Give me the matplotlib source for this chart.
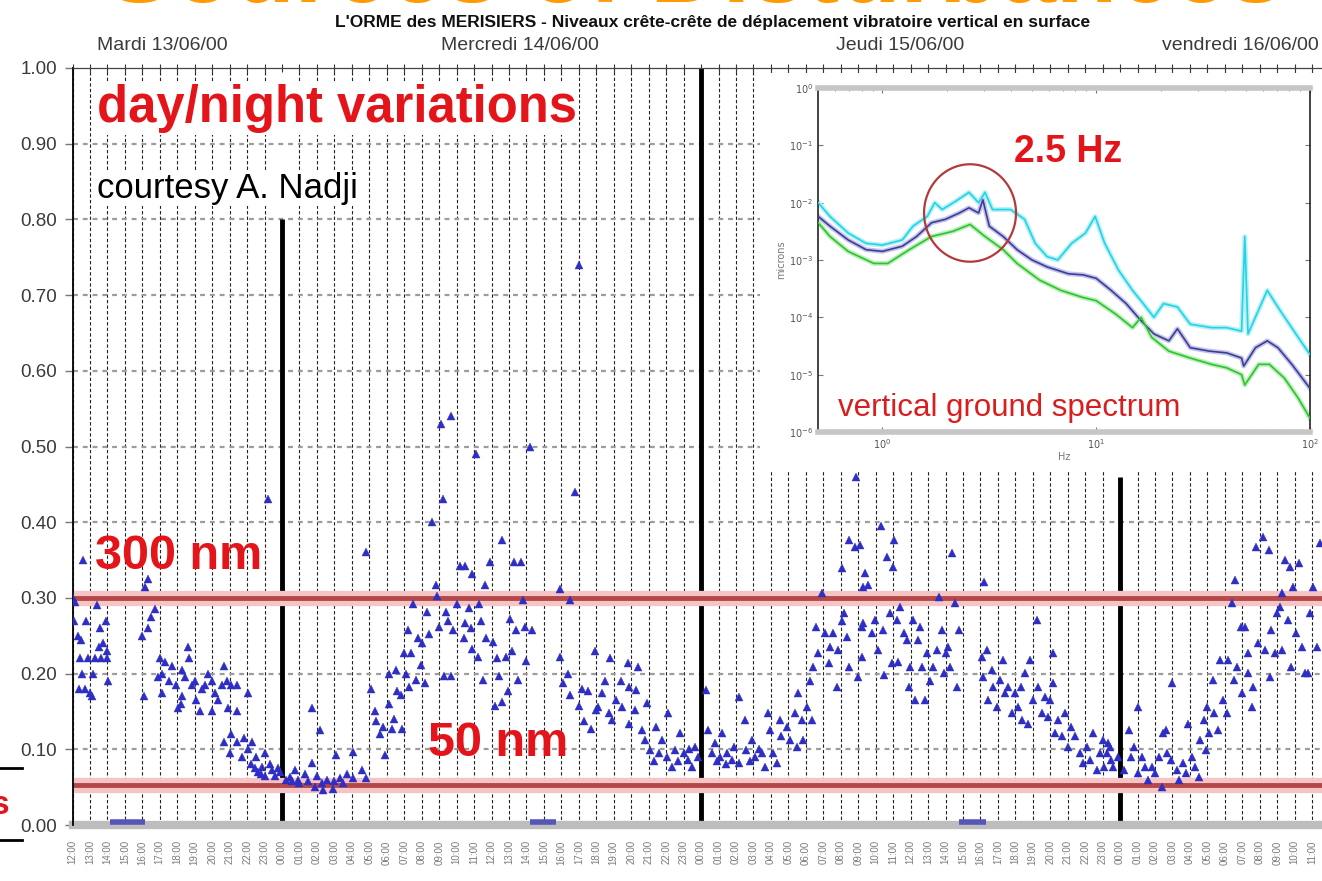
import matplotlib
matplotlib.use('Agg')
import matplotlib.pyplot as plt
import numpy as np
from matplotlib.patches import Rectangle
from matplotlib.lines import Line2D
from matplotlib.ticker import NullLocator, FixedLocator

# ---------------- data ----------------
# hours since Tue 13/06/00 12:00 ; peak-peak vertical displacement (microns)
t_hours = [
    0.05, 0.15, 0.10, 0.30, 0.45, 0.50, 0.60, 0.55, 0.70, 0.80, 0.90, 1.00, 1.10, 1.20, 1.40, 1.50,
    1.55, 1.65, 1.75, 1.90, 1.95, 2.05, 2.00, 0.35, 1.30,
    4.00, 4.10, 4.15, 4.30, 4.30, 4.50, 4.70, 4.90, 5.00, 5.10, 5.30, 5.15, 5.50, 5.90, 6.05, 6.30,
    6.30, 6.60, 6.70, 6.45, 6.85, 7.10, 7.30, 7.40, 7.60, 7.75, 8.00, 8.15, 8.00, 8.35, 8.55, 8.70,
    8.85, 8.90, 9.10, 9.40, 9.45, 8.70, 9.00, 9.10, 9.45, 9.85, 10.05, 9.70, 10.05, 10.30, 10.45,
    10.60, 10.85, 11.00, 11.00, 11.20, 11.40, 11.60, 11.90, 10.20, 10.80, 11.30, 11.75, 10.50, 7.00,
    5.70, 6.20,
    12.20, 12.45, 12.75, 12.90, 13.30, 13.70, 13.70, 13.90, 14.20, 14.30, 14.60, 14.35, 14.90, 15.10,
    15.30, 15.70, 16.05, 16.05, 16.60, 16.80, 13.00, 13.50, 14.00, 15.00, 15.50, 12.60, 16.80,
    17.10, 17.40, 17.60, 17.80, 17.90, 18.10, 18.10, 18.30, 18.50, 18.60, 18.80, 18.90, 19.00, 19.20,
    19.30, 19.40, 19.50, 19.70, 19.80, 19.95, 20.20, 20.30, 20.40, 20.60, 20.80, 20.85, 21.00, 21.10,
    21.20, 21.30, 21.40, 21.70, 21.70, 21.80, 22.00, 22.20, 22.40, 22.50, 22.50, 22.70, 22.90, 22.90,
    23.10, 23.20, 23.30, 23.50, 23.60, 23.70, 23.90, 24.10, 24.20, 24.40, 24.60, 24.60, 24.80, 24.95,
    25.05, 25.30, 25.40, 25.50, 25.70, 25.80, 25.90, 26.00, 26.20, 26.30, 17.30, 18.40, 20.00, 21.50,
    22.80, 23.40, 24.30, 25.20, 19.10,
    27.90, 27.90, 28.10, 28.40, 28.50, 28.50, 28.80, 29.00, 29.00, 29.30, 29.50, 29.70, 30.00, 29.90,
    30.30, 30.10, 30.80, 30.70, 30.90, 31.10, 31.40, 31.50, 31.80, 31.85, 31.90, 32.20, 32.40, 32.30,
    32.60, 32.90, 32.80, 33.10, 33.40, 33.60, 33.75, 34.05, 34.10, 34.35, 34.50, 34.80, 35.00, 35.25,
    35.50, 35.65, 35.80, 29.20, 30.50, 33.30, 34.70, 35.30,
    36.30, 36.40, 36.60, 36.80, 37.10, 37.20, 37.50, 37.80, 37.90, 38.20, 38.20, 38.50, 38.60, 38.90,
    39.10, 39.50, 39.65, 39.85, 39.95, 40.10, 40.35, 40.50, 40.60, 40.90, 41.10, 41.40, 41.55, 41.50,
    41.80, 41.85, 42.05, 42.25, 42.35, 42.40, 42.60, 42.70, 42.90, 43.10, 43.30, 43.40, 43.55, 43.80,
    43.85, 44.10, 44.10, 44.20, 44.35, 44.50, 44.50, 44.80, 44.90, 45.00, 45.20, 45.30, 36.90, 37.40,
    38.80, 39.30,
    45.10, 45.40, 45.55, 45.30, 45.20, 45.80, 45.95, 46.15, 46.30, 46.40, 46.50, 46.65, 46.80, 46.95,
    47.00, 47.05, 47.20, 47.30, 47.40, 47.60, 47.80, 47.90, 47.95, 48.15, 48.25, 48.45, 48.55, 48.65,
    48.80, 48.95, 49.10, 49.30, 49.50, 49.60, 49.80, 49.90, 50.00, 50.15, 50.25, 50.35, 50.55, 50.65,
    50.75, 52.10, 52.20, 52.15, 52.35, 52.45, 52.65, 52.70, 52.95, 53.10, 53.30, 53.40, 53.60, 53.80,
    54.00, 54.15, 54.35, 54.40, 54.55, 54.75, 54.85, 55.00, 55.25, 55.30, 55.50, 55.70, 55.85, 56.00,
    56.15, 56.15, 56.30, 56.45, 56.65, 56.85, 57.00, 57.20, 57.40, 57.70, 57.90, 58.10, 58.30, 58.45,
    58.70, 58.85,
    59.00, 59.25, 59.40, 59.60, 59.90, 59.10, 59.30, 59.50, 60.20, 60.50, 60.60, 60.80, 61.00, 61.00,
    61.25, 61.40, 61.60, 61.80, 62.00, 62.20, 62.40, 62.45, 62.65, 62.70, 62.90, 63.00, 63.25, 63.40,
    63.60, 63.80, 63.90, 64.10, 64.30, 64.50, 64.60, 64.80, 64.90, 65.00, 65.10, 65.30, 65.40, 65.60,
    65.70, 65.90, 66.10, 66.20, 66.40, 66.60, 66.50, 66.70, 66.90, 67.00, 67.15, 67.30, 67.35, 67.55,
    67.60, 67.80, 67.90, 68.20, 68.30, 68.50, 68.60, 68.65, 68.85, 69.00, 69.15, 69.25, 69.30, 69.45,
    69.60, 69.75, 69.80, 69.90, 70.10, 70.25, 70.40, 70.60, 70.75, 70.90, 71.05, 71.30, 71.45,
]
level_um = [
    0.300, 0.295, 0.270, 0.250, 0.220, 0.245, 0.350, 0.200, 0.180, 0.270, 0.220, 0.175, 0.170, 0.200, 0.290, 0.235,
    0.260, 0.220, 0.240, 0.270, 0.230, 0.190, 0.220, 0.180, 0.220,
    0.250, 0.170, 0.315, 0.325, 0.260, 0.275, 0.285, 0.195, 0.220, 0.200, 0.215, 0.175, 0.190, 0.185, 0.155, 0.170,
    0.205, 0.235, 0.220, 0.195, 0.185, 0.165, 0.150, 0.180, 0.185, 0.200, 0.190, 0.175, 0.150, 0.165, 0.185, 0.210,
    0.190, 0.155, 0.185, 0.185, 0.150, 0.110, 0.095, 0.120, 0.110, 0.115, 0.175, 0.090, 0.100, 0.110, 0.075,
    0.070, 0.077, 0.095, 0.065, 0.430, 0.072, 0.065, 0.070, 0.080, 0.068, 0.080, 0.075, 0.090, 0.190,
    0.210, 0.160,
    0.060, 0.063, 0.072, 0.060, 0.068, 0.155, 0.082, 0.050, 0.125, 0.055, 0.060, 0.046, 0.047, 0.092,
    0.062, 0.067, 0.097, 0.062, 0.072, 0.062, 0.055, 0.058, 0.065, 0.058, 0.055, 0.058, 0.360,
    0.180, 0.137, 0.120, 0.130, 0.092, 0.200, 0.160, 0.127, 0.205, 0.177, 0.172, 0.127, 0.227, 0.257,
    0.182, 0.227, 0.292, 0.192, 0.247, 0.212, 0.187, 0.282, 0.252, 0.400, 0.317, 0.302, 0.262, 0.530,
    0.430, 0.197, 0.282, 0.540, 0.197, 0.257, 0.292, 0.342, 0.247, 0.342, 0.267, 0.287, 0.232, 0.332,
    0.490, 0.222, 0.292, 0.192, 0.317, 0.247, 0.347, 0.242, 0.157, 0.197, 0.162, 0.377, 0.222, 0.177,
    0.272, 0.347, 0.257, 0.192, 0.347, 0.297, 0.262, 0.217, 0.500, 0.257, 0.150, 0.140, 0.240, 0.270,
    0.260, 0.270, 0.220, 0.230, 0.200,
    0.312, 0.222, 0.187, 0.200, 0.297, 0.172, 0.440, 0.740, 0.157, 0.137, 0.177, 0.127, 0.152, 0.230,
    0.174, 0.156, 0.220, 0.148, 0.139, 0.165, 0.190, 0.156, 0.214, 0.182, 0.134, 0.152, 0.209, 0.178,
    0.125, 0.161, 0.112, 0.099, 0.130, 0.095, 0.112, 0.090, 0.148, 0.077, 0.099, 0.121, 0.095, 0.086,
    0.077, 0.103, 0.090, 0.180, 0.190, 0.085, 0.085, 0.100,
    0.178, 0.125, 0.095, 0.108, 0.090, 0.121, 0.095, 0.086, 0.103, 0.169, 0.082, 0.139, 0.099, 0.112,
    0.090, 0.095, 0.077, 0.148, 0.125, 0.095, 0.082, 0.139, 0.117, 0.130, 0.112, 0.148, 0.174, 0.103,
    0.139, 0.112, 0.156, 0.190, 0.139, 0.209, 0.262, 0.227, 0.306, 0.253, 0.214, 0.235, 0.253, 0.182,
    0.231, 0.340, 0.270, 0.280, 0.248, 0.376, 0.209, 0.367, 0.460, 0.196, 0.262, 0.314, 0.085, 0.080,
    0.085, 0.100,
    0.370, 0.333, 0.317, 0.267, 0.222, 0.254, 0.271, 0.231, 0.395, 0.258, 0.198, 0.354, 0.280, 0.214,
    0.341, 0.376, 0.271, 0.215, 0.288, 0.254, 0.244, 0.182, 0.209, 0.271, 0.165, 0.244, 0.262, 0.209,
    0.165, 0.227, 0.190, 0.209, 0.231, 0.301, 0.258, 0.201, 0.227, 0.235, 0.209, 0.359, 0.293, 0.182,
    0.258, 0.222, 0.321, 0.196, 0.231, 0.165, 0.205, 0.182, 0.156, 0.192, 0.218, 0.174, 0.182, 0.148,
    0.174, 0.156, 0.182, 0.139, 0.201, 0.134, 0.218, 0.165, 0.271, 0.182, 0.148, 0.169, 0.143, 0.165,
    0.227, 0.188, 0.121, 0.139, 0.117, 0.148, 0.103, 0.130, 0.117, 0.095, 0.082, 0.103, 0.086, 0.121,
    0.073, 0.095,
    0.112, 0.095, 0.103, 0.077, 0.090, 0.077, 0.108, 0.086, 0.073, 0.125, 0.090, 0.103, 0.156, 0.069,
    0.090, 0.077, 0.059, 0.077, 0.069, 0.090, 0.050, 0.121, 0.125, 0.095, 0.086, 0.188, 0.073, 0.059,
    0.082, 0.069, 0.134, 0.090, 0.077, 0.063, 0.112, 0.139, 0.099, 0.156, 0.121, 0.192, 0.148, 0.125,
    0.218, 0.165, 0.148, 0.218, 0.293, 0.324, 0.192, 0.209, 0.262, 0.174, 0.262, 0.227, 0.201, 0.156,
    0.182, 0.367, 0.240, 0.380, 0.231, 0.363, 0.196, 0.258, 0.227, 0.280, 0.288, 0.306, 0.231, 0.350,
    0.271, 0.341, 0.209, 0.314, 0.254, 0.346, 0.235, 0.201, 0.201, 0.280, 0.314, 0.235, 0.372,
]

# missing-data intervals (hours) marked on the zero line
gap_start = [2.15, 26.2, 50.8]
gap_end = [4.15, 27.7, 52.3]

# thresholds (microns)
thresholds = [0.30, 0.053]
threshold_labels = ['300 nm', '50 nm']

# midnights (hours) and the top of the thick line there
midnights = [12, 36, 60]
midnight_top = [0.80, 1.00, 0.46]

day_labels = ['Mardi 13/06/00', 'Mercredi 14/06/00', 'Jeudi 15/06/00', 'vendredi 16/06/00']

# inset spectrum: log10(frequency Hz) and log10(amplitude microns)
cyan_logf = [-0.30, -0.245, -0.16, -0.076, 0.0, 0.093, 0.143, 0.21, 0.245, 0.28, 0.345, 0.405, 0.45, 0.48,
             0.515, 0.60, 0.665, 0.715, 0.77, 0.82, 0.885, 0.95, 0.995, 1.04, 1.105, 1.17, 1.22, 1.27,
             1.315, 1.38, 1.44, 1.54, 1.61, 1.68, 1.695, 1.71, 1.80, 1.86, 1.945, 2.0]
cyan_logy = [-2.00, -2.24, -2.53, -2.71, -2.74, -2.65, -2.41, -2.24, -2.00, -2.12, -1.97, -1.82, -2.00, -1.82,
             -2.12, -2.12, -2.29, -2.71, -2.94, -3.00, -2.71, -2.53, -2.24, -2.71, -3.18, -3.53, -3.76, -4.00,
             -3.76, -3.82, -4.12, -4.18, -4.18, -4.24, -2.59, -4.29, -3.53, -3.88, -4.35, -4.65]
blue_logf = [-0.30, -0.245, -0.16, -0.076, 0.0, 0.093, 0.16, 0.23, 0.295, 0.36, 0.405, 0.45, 0.47, 0.50,
             0.565, 0.63, 0.70, 0.77, 0.87, 0.94, 1.0, 1.07, 1.14, 1.21, 1.27, 1.34, 1.38, 1.44, 1.53,
             1.61, 1.68, 1.69, 1.745, 1.80, 1.85, 1.915, 2.0]
blue_logy = [-2.24, -2.41, -2.65, -2.82, -2.85, -2.76, -2.59, -2.35, -2.29, -2.18, -2.09, -2.18, -1.95, -2.41,
             -2.59, -2.82, -3.00, -3.12, -3.24, -3.26, -3.32, -3.53, -3.76, -4.06, -4.29, -4.41, -4.20, -4.53,
             -4.59, -4.62, -4.71, -4.85, -4.53, -4.41, -4.53, -4.82, -5.24]
green_logf = [-0.30, -0.245, -0.16, -0.04, 0.025, 0.126, 0.23, 0.33, 0.41, 0.48, 0.565, 0.63, 0.735, 0.835,
              0.935, 1.0, 1.09, 1.17, 1.21, 1.26, 1.34, 1.44, 1.54, 1.61, 1.68, 1.695, 1.76, 1.81, 1.88,
              1.945, 2.0]
green_logy = [-2.35, -2.59, -2.85, -3.06, -3.06, -2.82, -2.59, -2.50, -2.38, -2.59, -2.82, -3.06, -3.35, -3.53,
              -3.65, -3.71, -3.94, -4.18, -4.00, -4.35, -4.59, -4.71, -4.82, -4.88, -5.00, -5.18, -4.82, -4.82,
              -5.06, -5.41, -5.76]

# ---------------- figure ----------------
W, H = 1322, 881
fig = plt.figure(figsize=(W / 100, H / 100), dpi=100)
fig.patch.set_facecolor('white')


def fx(px):
    return px / W


def fy(py):
    return 1 - py / H


RED = '#e3151b'
x0, x_hour = 72.5, 17.46
xmax = (W - x0) / x_hour

ax = fig.add_axes([fx(x0), fy(825), fx(W - x0), (825 - 68) / H])
ax.set_xlim(0, xmax)
ax.set_ylim(0, 1)

# hourly dashed verticals
for h in range(0, 72):
    if h in midnights:
        continue
    ax.axvline(h, color='#222222', lw=0.8, ls=(0, (3, 2)), zorder=1)
# horizontal dashed grid
for v in np.arange(0.1, 0.95, 0.1):
    ax.axhline(v, color='#9c9c9c', lw=1.6, ls=(0, (2.2, 2.2)), zorder=1)
# midnight thick lines
for m, top in zip(midnights, midnight_top):
    ax.vlines(m, 0, top, color='black', lw=3.5, zorder=2)

# zero line
ax.axhline(0, color='#bdbdbd', lw=6, zorder=2, clip_on=False)
ax.hlines([0.004] * len(gap_start), gap_start, gap_end, color='#5656b8', lw=4, zorder=3)

# threshold lines
for th in thresholds:
    ax.axhline(th, color='#f5c4c4', lw=11, zorder=2.4)
    ax.axhline(th, color='#b54848', lw=3.5, zorder=2.5)

# data
ax.plot(t_hours, level_um, ls='none', marker='^', ms=5.5, color='#2e2ec4', mec='#2e2ec4',
        mew=0.3, zorder=4)

# axes styling
for s in ['right', 'bottom']:
    ax.spines[s].set_visible(False)
ax.spines['left'].set_color('black')
ax.spines['left'].set_linewidth(1.3)
ax.spines['top'].set_color('#444444')
ax.spines['top'].set_linewidth(0.9)

ax.set_yticks(np.round(np.arange(0, 1.01, 0.1), 2))
ax.set_yticklabels([f'{v:.2f}' for v in np.arange(0, 1.01, 0.1)], family='Liberation Sans',
                   fontsize=13.5, color='#3a3a3a')
ax.tick_params(axis='y', direction='out', length=6, width=1, color='#777777', pad=5)

hours_ticks = list(range(0, 72))
ax.set_xticks(hours_ticks)
ax.set_xticklabels([f'{(12 + h) % 24:02d}:00' for h in hours_ticks], rotation=90,
                   fontsize=7, color='#7a7a7a', family='Liberation Sans')
ax.tick_params(axis='x', bottom=False, top=True, direction='inout', length=6, width=0.8,
               color='#333333', pad=8)

# white area behind the inset
fig.add_artist(Rectangle((fx(760), fy(470)), fx(W - 760), (470 - 73) / H,
                         transform=fig.transFigure, facecolor='white', edgecolor='none', zorder=0.5))

# annotations on the main chart
fig.text(fx(97), fy(122), 'day/night variations', color=RED, fontsize=36.5, fontweight='bold',
         family='Liberation Sans', ha='left', va='baseline', zorder=3,
         bbox=dict(facecolor='white', edgecolor='none', pad=1))
fig.text(fx(97), fy(198), 'courtesy A. Nadji', color='black', fontsize=25,
         family='Liberation Sans', ha='left', va='baseline', zorder=3,
         bbox=dict(facecolor='white', edgecolor='none', pad=1))
ax.text(95 / x_hour - x0 / x_hour, thresholds[0] + 0.025, threshold_labels[0], color=RED, fontsize=35,
        fontweight='bold', family='Liberation Sans', ha='left', va='bottom', zorder=5)
ax.text(428 / x_hour - x0 / x_hour, thresholds[1] + 0.025, threshold_labels[1], color=RED, fontsize=35,
        fontweight='bold', family='Liberation Sans', ha='left', va='bottom', zorder=5)

# titles
fig.text(fx(713), fy(22), "L'ORME des MERISIERS - Niveaux crête-crête de déplacement vibratoire vertical en surface",
         fontsize=12.5, fontweight='bold', family='Liberation Sans', ha='center', va='center', color='#111111')
for lab, px in zip(day_labels, [162, 520, 900, 1240]):
    fig.text(fx(px), fy(46), lab, fontsize=14, family='Liberation Sans', ha='center', va='center',
             color='#3a3a3a')
fig.text(fx(695), fy(2), 'Sources of Disturbances', fontsize=72, fontweight='bold', color='#ff9a00',
         family='Liberation Sans', ha='center', va='baseline')

# slide remnants on the left edge
fig.text(fx(9), fy(806), 's', color=RED, fontsize=24, fontweight='bold', family='Liberation Sans',
         ha='right', va='center')
fig.add_artist(Line2D([0, fx(22)], [fy(768), fy(768)], color='black', lw=2))
fig.add_artist(Line2D([0, fx(22)], [fy(840), fy(840)], color='black', lw=2))

# ---------------- inset spectrum ----------------
ins = fig.add_axes([fx(818), fy(432), fx(1310 - 818), (432 - 88) / H])
ins.set_zorder(2)
ins.set_xscale('log')
ins.set_yscale('log')
ins.set_xlim(0.5, 100)
ins.set_ylim(1e-6, 1)

for lf, ly, col, halo in [(cyan_logf, cyan_logy, '#22d4e6', '#b8f0f6'),
                          (blue_logf, blue_logy, '#3c3c9c', '#c4c4e8'),
                          (green_logf, green_logy, '#2ec42e', '#bdeebd')]:
    f = 10 ** np.array(lf)
    y = 10 ** np.array(ly)
    ins.plot(f, y, color=halo, lw=3.5, zorder=2)
    ins.plot(f, y, color=col, lw=1.2, zorder=3)

# circle around the 2.5 Hz bump
tt = np.linspace(0, 2 * np.pi, 200)
ins.plot(10 ** (0.41 + 0.215 * np.cos(tt)), 10 ** (-2.18 + 0.85 * np.sin(tt)), color='#b23a3a', lw=1.6,
         zorder=4)
ins.text(10 ** 0.87, 10 ** -1.12, '2.5 Hz', color=RED, fontsize=27, fontweight='bold',
         family='Liberation Sans', ha='center', va='center')
ins.text(10 ** -0.206, 10 ** -5.58, 'vertical ground spectrum', color='#d81e1e', fontsize=22.5,
         family='Liberation Sans', ha='left', va='center')

for s in ['top', 'bottom']:
    ins.spines[s].set_color('#c6c6c6')
    ins.spines[s].set_linewidth(4)
for s in ['left', 'right']:
    ins.spines[s].set_color('#111111')
    ins.spines[s].set_linewidth(1.1)
ins.yaxis.set_major_locator(FixedLocator([1e-6, 1e-5, 1e-4, 1e-3, 1e-2, 1e-1, 1]))
ins.yaxis.set_minor_locator(NullLocator())
ins.tick_params(which='both', direction='in', top=True, right=True, labelsize=7, labelcolor='#555555',
                color='#777777')
ins.set_ylabel('microns', fontsize=7, color='#777777', labelpad=2)
ins.set_xlabel('Hz', fontsize=7, color='#777777', labelpad=1)

fig.savefig('out.png', dpi=100, facecolor='white')
